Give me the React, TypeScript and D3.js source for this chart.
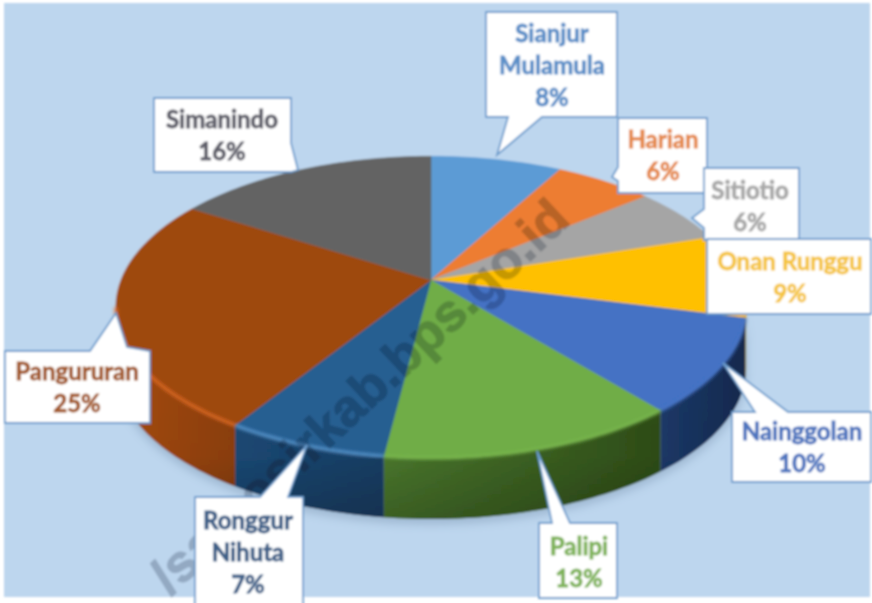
import React from "react";
import * as d3 from "d3";

const categories = ["Sianjur Mulamula","Harian","Sitiotio","Onan Runggu","Nainggolan","Palipi","Ronggur Nihuta","Pangururan","Simanindo"];
const values = [8,6,6,9,10,13,7,25,16];
const topColors = ["#5b9bd5","#ed7d31","#a5a5a5","#ffc000","#4472c4","#70ad47","#255e91","#9e480e","#636363"];
const rimColors = ["#5b9bd5","#ed7d31","#a5a5a5","#ffc000","#4472c4","#78b54c","#5a98d0","#e06a20","#636363"];
const wallLeftColors = ["#3a6a96","#a4531c","#707070","#b08600","#1c3a6a","#4c7a2e","#1b4a76","#a84c10","#444444"];
const wallRightColors = ["#3a6a96","#a4531c","#707070","#b08600","#16294e","#2f4e18","#1a3f66","#8e4010","#444444"];
const textColors = ["#5b8fc8","#e58a4e","#a8a8a8","#f5c542","#4f76bf","#7fb35a","#3f6088","#a35a2a","#5f5f6a"];

const labelLines = [["Sianjur","Mulamula","8%"],["Harian","6%"],["Sitiotio","6%"],["Onan Runggu","9%"],["Nainggolan","10%"],["Palipi","13%"],["Ronggur","Nihuta","7%"],["Pangururan","25%"],["Simanindo","16%"]];
const watermark = "/samosirkab.bps.go.id";

// callout layout: outline with the tail, text centre x, first baseline
const calloutOutlines: [number,number][][] = [
  [[486,12],[617,12],[617,117],[542,117],[497,155],[508,117],[486,117]],
  [[618,118],[707,118],[707,193],[618,193],[618,181],[612,177],[618,167]],
  [[704,168],[799,168],[799,240],[704,240],[704,228],[692,218],[704,209]],
  [[707,239],[871,239],[871,314],[707,314]],
  [[732,412],[755,412],[723,363],[788,412],[871,412],[871,482],[732,482]],
  [[539,523],[552,523],[537,451],[570,523],[617,523],[617,598],[539,598]],
  [[195,497],[260,497],[307,445],[288,497],[303,497],[303,610],[195,610]],
  [[5,351],[90,351],[116,313],[127,347],[150,351],[150,423],[5,423]],
  [[154,98],[291,98],[291,143],[298,170],[291,172],[154,172]],
];
const labelX = [552,663,750,790,802,579,248,77,222];
const labelY = [42,148,199,270,440,555,529,380,128];

const W = 872, H = 603;
const cx = 431, cy = 280, A = 310, B = 146, K = 0.18, DEPTH = 61;
const LINE_GAP = 32;

const project = (a: number, r = 1): [number, number] => {
  const u = r * Math.sin(a), v = -r * Math.cos(a), w = 1 - K * v;
  return [cx + (A * u) / w, cy + (B * v) / w];
};
const samples = (a0: number, a1: number) => {
  const n = Math.max(2, Math.ceil((a1 - a0) / 0.02));
  return d3.range(n + 1).map((i) => a0 + ((a1 - a0) * i) / n);
};
const line = d3.line<[number, number]>();
const pieArcs = d3.pie<number>().sort(null).value((d) => d)(values);
const wallStart = Math.acos(-K), wallEnd = 2 * Math.PI - Math.acos(-K);

const topPath = (a0: number, a1: number) => line([[cx, cy], ...samples(a0, a1).map((a) => project(a))])! + "Z";
const rimPath = (a0: number, a1: number) => line(samples(a0, a1).map((a) => project(a)))!;
const wallPath = (a0: number, a1: number) => {
  const t = samples(a0, a1).map((a) => project(a));
  const b = t.slice().reverse().map(([x, y]) => [x, y + DEPTH] as [number, number]);
  return line([...t, ...b])! + "Z";
};

export default function App() {
  return (
    <svg width={W} height={H} viewBox={`0 0 ${W} ${H}`} style={{ position: "absolute", left: 0, top: 0, background: "#fff" }}>
      <defs>
        <filter id="soft" x="-5%" y="-5%" width="110%" height="110%"><feGaussianBlur stdDeviation="0.8" /></filter>
        <filter id="rim" x="-5%" y="-5%" width="110%" height="110%"><feGaussianBlur stdDeviation="1.6" /></filter>
        <filter id="shadow" x="-10%" y="-10%" width="120%" height="120%"><feGaussianBlur stdDeviation="5" /></filter>
        <linearGradient id="wallShade" x1="0" x2="0" y1="0" y2="1">
          <stop offset="0" stopColor="#000" stopOpacity="0" />
          <stop offset="0.7" stopColor="#000" stopOpacity="0.04" />
          <stop offset="1" stopColor="#000" stopOpacity="0.22" />
        </linearGradient>
        {categories.map((c, i) => (
          <linearGradient key={c} id={`wall${i}`} x1="0" x2="1" y1="0" y2="0">
            <stop offset="0" stopColor={wallLeftColors[i]} />
            <stop offset="1" stopColor={wallRightColors[i]} />
          </linearGradient>
        ))}
      </defs>
      <g filter="url(#soft)">
        <rect x={4} y={3} width={866} height={594} fill="#bdd6ee" />
        <path d={wallPath(wallStart, wallEnd)} transform="translate(0,5)" fill="#7e98b4" opacity={0.5} filter="url(#shadow)" />
        {pieArcs.map((d, i) => {
          const a0 = Math.max(d.startAngle, wallStart), a1 = Math.min(d.endAngle, wallEnd);
          return a1 > a0 ? <path key={i} d={wallPath(a0, a1)} fill={`url(#wall${i})`} /> : null;
        })}
        <path d={wallPath(wallStart, wallEnd)} fill="url(#wallShade)" />
        {pieArcs.map((d, i) => (
          <path key={i} d={topPath(d.startAngle, d.endAngle)} fill={topColors[i]} stroke={topColors[i]} strokeWidth={0.5} />
        ))}
        {pieArcs.map((d, i) => {
          const a0 = Math.max(d.startAngle, wallStart), a1 = Math.min(d.endAngle, wallEnd);
          return a1 > a0 ? <path key={i} d={rimPath(a0, a1)} fill="none" stroke={rimColors[i]} strokeWidth={3} filter="url(#rim)" /> : null;
        })}
        <text transform="translate(572,222) rotate(-43)" textAnchor="end" fontFamily="'Liberation Sans', Arial, sans-serif" fontWeight={700} fontSize={52} fill="#c6cad0" stroke="#c6cad0" strokeWidth={1.2} style={{ mixBlendMode: "multiply" }}>
          {watermark}
        </text>
        {categories.map((c, i) => (
          <g key={c}>
            <path d={line(calloutOutlines[i])! + "Z"} fill="#ffffff" stroke="#6b9bcc" strokeWidth={1.8} />
            <text textAnchor="middle" fontFamily="Lato, 'Open Sans', sans-serif" fontWeight={700} fontSize={24} fill={textColors[i]} stroke={textColors[i]} strokeWidth={0.8}>
              {labelLines[i].map((t, j) => (
                <tspan key={j} x={labelX[i]} y={labelY[i] + j * LINE_GAP}>{t}</tspan>
              ))}
            </text>
          </g>
        ))}
      </g>
    </svg>
  );
}
